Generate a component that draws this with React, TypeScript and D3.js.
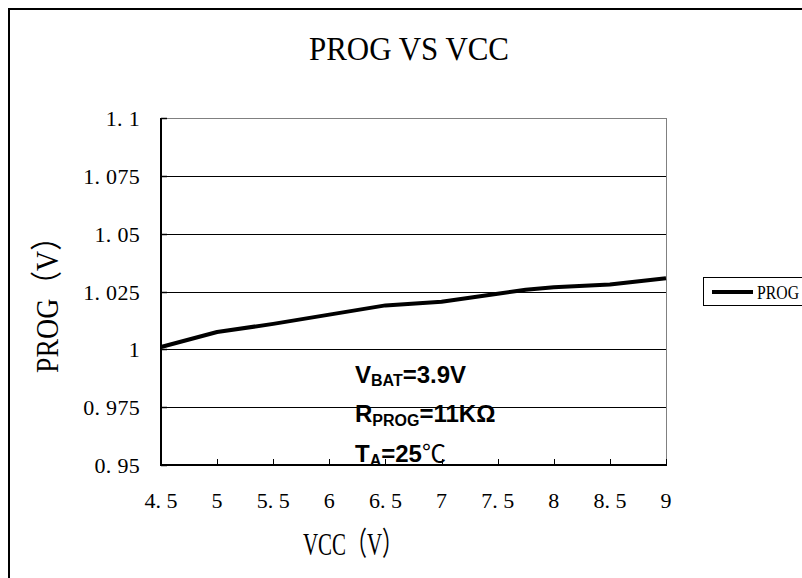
import React from 'react';
import * as d3 from 'd3';

// values
const vcc = [4.5, 5, 5.5, 6, 6.5, 7, 7.5, 7.75, 8, 8.5, 9];
const prog = [1.001, 1.0075, 1.011, 1.015, 1.019, 1.0206, 1.024, 1.0258, 1.0268, 1.028, 1.0307];
const xTicks = [4.5, 5, 5.5, 6, 6.5, 7, 7.5, 8, 8.5, 9];
const yTicks = [0.95, 0.975, 1, 1.025, 1.05, 1.075, 1.1];
const seriesName = 'PROG';
const xTitle = 'VCC（V）';
const yTitle = 'PROG（V）';

const W = 802;
const H = 578;
const plot = { left: 161, right: 666, top: 118, bottom: 465 };

// latin in serif, full-width brackets fall back to the CJK font
const serif = '"Liberation Serif", "Noto Sans CJK SC", serif';
const cjk = '"Noto Sans CJK SC", sans-serif';
const sans = '"Liberation Sans", Arial, sans-serif';

// SimSun style labels show a wide gap after the decimal point
const fmt = (v: number) => String(v).replace('.', '. ');

const App: React.FC = () => {
  const x = d3.scaleLinear().domain([4.5, 9]).range([plot.left, plot.right]);
  const y = d3.scaleLinear().domain([0.95, 1.1]).range([plot.bottom, plot.top]);

  const line = d3.line<number>()
    .x((_, i) => x(vcc[i]))
    .y(d => y(d));

  return (
    <svg width={W} height={H} style={{ position: 'fixed', left: 0, top: 0, background: '#fff' }}>
      {/* outer chart frame, runs off the right and bottom */}
      <rect x={9} y={9} width={W} height={H} fill="none" stroke="#000" strokeWidth={2} />

      <text x={409} y={60} fontFamily={serif} fontSize={34} textAnchor="middle"
        textLength={200} lengthAdjust="spacingAndGlyphs">PROG VS VCC</text>

      {/* plot frame: top/right grey */}
      <line x1={plot.left} x2={plot.right} y1={plot.top + 0.5} y2={plot.top + 0.5} stroke="#808080" />
      <line x1={plot.right + 0.5} x2={plot.right + 0.5} y1={plot.top} y2={plot.bottom} stroke="#808080" />

      {/* gridlines */}
      {yTicks.filter(t => t > 0.95 && t < 1.1).map(t => (
        <line key={t} x1={plot.left} x2={plot.right} y1={Math.round(y(t)) + 0.5} y2={Math.round(y(t)) + 0.5}
          stroke="#000" strokeWidth={1} />
      ))}

      {/* axes */}
      <line x1={plot.left} x2={plot.left} y1={plot.top} y2={plot.bottom + 1} stroke="#000" strokeWidth={2} />
      <line x1={plot.left} x2={plot.right + 1} y1={plot.bottom} y2={plot.bottom} stroke="#000" strokeWidth={2} />

      {yTicks.map(t => (
        <g key={t}>
          <line x1={plot.left} x2={plot.left + 6} y1={Math.round(y(t)) + 0.5} y2={Math.round(y(t)) + 0.5} stroke="#000" strokeWidth={1.5} />
          <text x={140} y={y(t) + 8} fontFamily={serif} fontSize={22} textAnchor="end"
            letterSpacing={0.3} style={{ whiteSpace: 'pre' }}>{fmt(t)}</text>
        </g>
      ))}

      {xTicks.map(t => (
        <g key={t}>
          <line x1={Math.round(x(t)) + 0.5} x2={Math.round(x(t)) + 0.5} y1={plot.bottom} y2={plot.bottom - 6} stroke="#000" strokeWidth={1} />
          <text x={x(t)} y={508} fontFamily={serif} fontSize={22} textAnchor="middle"
            style={{ whiteSpace: 'pre' }}>{fmt(t)}</text>
        </g>
      ))}

      {/* series */}
      <path d={line(prog) || ''} fill="none" stroke="#000" strokeWidth={4} strokeLinejoin="round" />

      {/* annotation */}
      <g fontFamily={sans} fontWeight="bold" fontSize={24}>
        <text x={355} y={383}>V<tspan fontSize={16} dy={3}>BAT</tspan><tspan dy={-3}>=3.9V</tspan></text>
        <text x={355} y={422}>R<tspan fontSize={16} dy={4}>PROG</tspan><tspan dy={-4}>=11KΩ</tspan></text>
        <text x={355} y={462}>T<tspan fontSize={16} dy={4}>A</tspan><tspan dy={-4}>=25</tspan><tspan fontFamily={cjk} fontWeight="normal" fontSize={24}>℃</tspan></text>
      </g>

      {/* axis titles */}
      <text x={353} y={555} fontFamily={serif} fontSize={32} textAnchor="middle"
        textLength={100} lengthAdjust="spacingAndGlyphs">{xTitle}</text>
      <text transform="translate(58,298) rotate(-90)" fontFamily={serif} fontSize={32} textAnchor="middle"
        textLength={150} lengthAdjust="spacingAndGlyphs">{yTitle}</text>

      {/* legend */}
      <rect x={703.5} y={277.5} width={110} height={28} fill="#fff" stroke="#000" strokeWidth={1} />
      <line x1={712} x2={753} y1={292} y2={292} stroke="#000" strokeWidth={4} />
      <text x={757} y={299} fontFamily={serif} fontSize={19} textLength={42} lengthAdjust="spacingAndGlyphs">{seriesName}</text>
    </svg>
  );
};

export default App;
